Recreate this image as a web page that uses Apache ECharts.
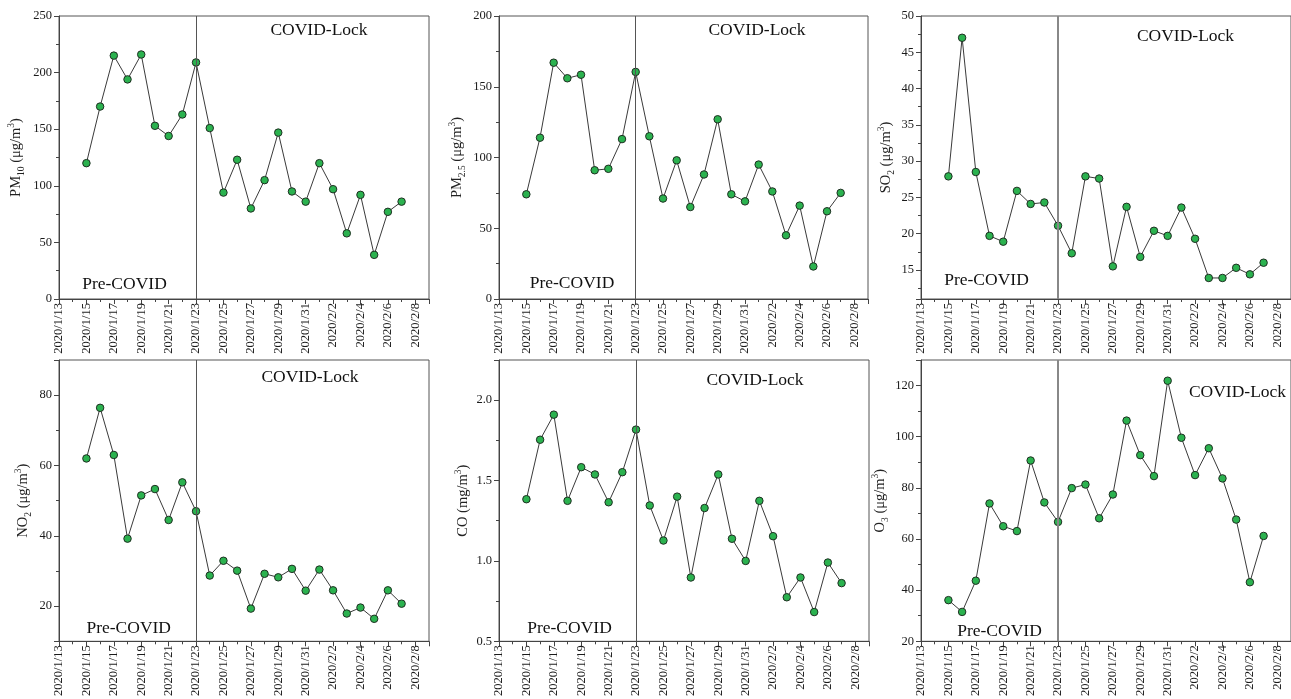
<!DOCTYPE html>
<html><head><meta charset="utf-8">
<script src="https://cdn.jsdelivr.net/npm/echarts@6/dist/echarts.min.js"></script>
<style>html,body{margin:0;padding:0;background:#fff}#c{width:1291px;height:699px}</style>
</head><body><div id="c"></div>
<script>
// ---- data ----
const dates = ['2020/1/15','2020/1/16','2020/1/17','2020/1/18','2020/1/19','2020/1/20','2020/1/21','2020/1/22','2020/1/23','2020/1/24','2020/1/25','2020/1/26','2020/1/27','2020/1/28','2020/1/29','2020/1/30','2020/1/31','2020/2/1','2020/2/2','2020/2/3','2020/2/4','2020/2/5','2020/2/6','2020/2/7'];
const pm10 = [120,170,215,194,216,153,144,163,209,151,94,123,80,105,147,95,86,120,97,58,92,39,77,86];
const pm25 = [74,114,167,156,158.5,91,92,113,160.5,115,71,98,65,88,127,74,69,95,76,45,66,23,62,75];
const so2  = [27.9,47.0,28.5,19.7,18.9,25.9,24.1,24.3,21.1,17.3,27.9,27.6,15.5,23.7,16.8,20.4,19.7,23.6,19.3,13.9,13.9,15.3,14.4,16.0];
const no2  = [62,76.4,63,39.2,51.5,53.3,44.5,55.2,47,28.7,32.9,30.1,19.3,29.2,28.2,30.6,24.4,30.4,24.5,17.9,19.6,16.4,24.5,20.7];
const co   = [1.384,1.754,1.910,1.374,1.583,1.538,1.365,1.552,1.817,1.345,1.127,1.400,0.897,1.329,1.538,1.138,1.0,1.374,1.154,0.774,0.897,0.682,0.99,0.862];
const o3   = [36.1,31.5,43.7,73.9,65.0,63.1,90.7,74.3,66.7,79.9,81.3,68.1,77.4,106.3,92.8,84.6,121.9,99.6,85.0,95.5,83.7,67.6,43.1,61.2];
const xTickLabels = ['2020/1/13','2020/1/15','2020/1/17','2020/1/19','2020/1/21','2020/1/23','2020/1/25','2020/1/27','2020/1/29','2020/1/31','2020/2/2','2020/2/4','2020/2/6','2020/2/8'];
const lockDate = '2020/1/23';
const preLabel = 'Pre-COVID';
const lockLabel = 'COVID-Lock';

const FONT = 'Liberation Serif';
function dayIndex(s){
  const p = s.split('/').map(Number), b = xTickLabels[0].split('/').map(Number);
  return Math.round((Date.UTC(p[0],p[1]-1,p[2]) - Date.UTC(b[0],b[1]-1,b[2]))/864e5);
}
const xMax = dayIndex(xTickLabels[xTickLabels.length-1]) + 1;

// panel layout + config
const panels = [
  {vals: pm10, name:'{m|PM}{s|10}{m| (μg/m}{p|3}{m|)}', min:0, max:250, interval:50, step:50, dec:0,
   grid:{left:59, top:16, width:370, height:283}, gap:33, lock:[319,30], pre:[124.5,284], vcol:'#555', vw:1},
  {vals: pm25, name:'{m|PM}{s|2.5}{m| (μg/m}{p|3}{m|)}', min:0, max:200, interval:50, step:50, dec:0,
   grid:{left:499, top:16, width:369, height:283}, gap:32, lock:[757,30.5], pre:[572,283], vcol:'#555', vw:1},
  {vals: so2, name:'{m|SO}{s|2}{m| (μg/m}{p|3}{m|)}', min:11, max:50, split:8, step:5, dec:0,
   grid:{left:921, top:16, width:372, height:283}, gap:25, lock:[1185.5,36.5], pre:[986.5,280], vcol:'#888', vw:2},
  {vals: no2, name:'{m|NO}{s|2}{m| (μg/m}{p|3}{m|)}', min:10, max:90, split:4, step:20, dec:0,
   grid:{left:59, top:360, width:370, height:285}, gap:26, lock:[310,377.5], pre:[128.7,628.3], vcol:'#555', vw:1},
  {vals: co, name:'{m|CO (mg/m}{p|3}{m|)}', min:0.5, max:2.25, interval:0.5, step:0.5, dec:1,
   grid:{left:499, top:360, width:370, height:285}, gap:26, lock:[755,380], pre:[569.5,628.7], vcol:'#555', vw:1},
  {vals: o3, name:'{m|O}{s|3}{m| (μg/m}{p|3}{m|)}', min:20, max:130, interval:20, step:20, dec:0,
   grid:{left:921, top:360, width:372, height:285}, gap:31, lock:[1237.5,392], pre:[999.5,631.7], vcol:'#888', vw:2}
];

const AX = '#444';
const rich = {
  m:{fontFamily:FONT, fontSize:14.5, color:'#222', lineHeight:20, verticalAlign:'middle'},
  s:{fontFamily:FONT, fontSize:9.5, color:'#222', lineHeight:10, verticalAlign:'bottom'},
  p:{fontFamily:FONT, fontSize:9.5, color:'#222', lineHeight:10, verticalAlign:'top'}
};

const option = {animation:false, backgroundColor:'#fff', grid:[], xAxis:[], yAxis:[], series:[], graphic:[]};
panels.forEach((p,i)=>{
  option.grid.push(Object.assign({show:true, borderColor:'#555', borderWidth:1, containLabel:false}, p.grid));
  option.xAxis.push({
    type:'value', gridIndex:i, min:0, max:xMax, interval:2,
    axisLine:{show:true, onZero:false, lineStyle:{color:AX, width:1}},
    axisTick:{show:true, inside:false, length:5, lineStyle:{color:AX}},
    minorTick:{show:true, splitNumber:2, length:3, lineStyle:{color:AX}},
    splitLine:{show:false},
    axisLabel:{rotate:90, margin:4, fontFamily:FONT, fontSize:12.5, color:'#1a1a1a', showMaxLabel:true,
      formatter:v=>{const k=v/2; return Number.isInteger(k)&&xTickLabels[k]?xTickLabels[k]:'';}}
  });
  const y = {
    type:'value', gridIndex:i, min:p.min, max:p.max,
    name:p.name, nameLocation:'middle', nameRotate:90, nameGap:p.gap,
    nameTextStyle:{rich:rich},
    axisLine:{show:true, onZero:false, lineStyle:{color:AX, width:1}},
    axisTick:{show:true, inside:false, length:5, lineStyle:{color:AX}},
    minorTick:{show:true, splitNumber:2, length:3, lineStyle:{color:AX}},
    splitLine:{show:false},
    axisLabel:{margin:7, fontFamily:FONT, fontSize:12.5, color:'#1a1a1a',
      formatter:v=>{const k=v/p.step; return Math.abs(k-Math.round(k))<1e-6 ? v.toFixed(p.dec) : '';}}
  };
  if (p.interval) y.interval = p.interval; else y.splitNumber = p.split;
  option.yAxis.push(y);
  option.series.push({
    type:'line', xAxisIndex:i, yAxisIndex:i,
    data: dates.map((d,j)=>[dayIndex(d), p.vals[j]]),
    symbol:'circle', symbolSize:7.5,
    lineStyle:{color:'#3a3a3a', width:1},
    itemStyle:{color:'#2bb24f', borderColor:'#1f2f22', borderWidth:1},
    markLine:{silent:true, symbol:'none', label:{show:false},
      lineStyle:{color:p.vcol, width:p.vw, type:'solid'},
      data:[{xAxis: dayIndex(lockDate)}]},
    z:3
  });
  option.graphic.push({type:'text', x:p.lock[0], y:p.lock[1],
    style:{text:lockLabel, font:'17.5px "'+FONT+'"', fill:'#111', align:'center', verticalAlign:'middle'}});
  option.graphic.push({type:'text', x:p.pre[0], y:p.pre[1],
    style:{text:preLabel, font:'17.5px "'+FONT+'"', fill:'#111', align:'center', verticalAlign:'middle'}});
});
const chart = echarts.init(document.getElementById('c'), null, {renderer:'canvas'});
chart.setOption(option);
</script></body></html>
